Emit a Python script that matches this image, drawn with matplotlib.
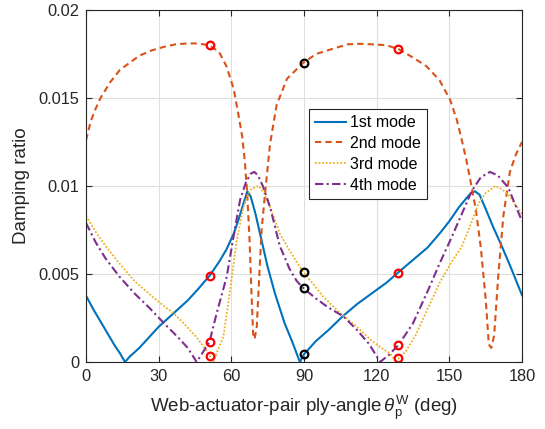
import matplotlib
matplotlib.use("Agg")
import matplotlib.pyplot as plt

plt.rcParams.update({
    "font.family": ["Liberation Sans", "DejaVu Sans"],
    "font.size": 12,
    "mathtext.fontset": "custom",
    "mathtext.rm": "Liberation Sans",
    "mathtext.it": "Liberation Sans:italic",
})

# ── data ────────────────────────────────────────────────────────────────
x_mode1 = [0, 3, 6, 9, 12, 14, 16.1, 18, 22, 26, 30, 34, 38, 42, 46, 51, 55, 58,
           61, 63, 65, 66.6, 68, 70, 72, 75, 78, 82, 85, 88.3, 90, 95, 100, 106,
           112, 118, 124, 129, 135, 141, 146, 150, 154, 157, 159, 160.6, 162.5,
           165, 168, 171.6, 175, 180]
y_mode1 = [0.00377, 0.0030, 0.0023, 0.0016, 0.0009, 0.0005, 0.0, 0.0003, 0.0008,
           0.0014, 0.0020, 0.0025, 0.0030, 0.0035, 0.0041, 0.0049, 0.0057, 0.0064,
           0.0073, 0.0081, 0.0090, 0.0097, 0.0094, 0.0084, 0.0072, 0.0054, 0.0039,
           0.0022, 0.0012, 0.0, 0.00044, 0.0012, 0.0018, 0.0026, 0.0033, 0.0039,
           0.0045, 0.0051, 0.0058, 0.0065, 0.0073, 0.0080, 0.0088, 0.0093, 0.0096,
           0.0097, 0.0095, 0.0087, 0.0077, 0.0066, 0.0055, 0.0038]

x_mode2 = [0, 2, 4, 6, 10, 14, 18, 22, 27, 32, 37, 42, 46, 51, 55, 58, 61, 63,
           64.5, 65.5, 66.5, 67.5, 68.3, 69.0, 69.6, 70.5, 71.5, 72.5, 74, 76,
           78.7, 83, 89.7, 95, 102, 108, 113, 118, 124, 129, 135, 140.6, 146,
           150.3, 153, 155, 157, 159, 161, 163, 165, 166.3, 167.3, 168.5, 170.2,
           172.3, 175, 177.5, 180]
y_mode2 = [0.0126, 0.0137, 0.0144, 0.0150, 0.0159, 0.0166, 0.0170, 0.0174,
           0.0177, 0.0179, 0.01805, 0.0181, 0.0181, 0.0180, 0.0176, 0.0168,
           0.0155, 0.0140, 0.0128, 0.0115, 0.0097, 0.0070, 0.0040, 0.0016,
           0.0013, 0.0020, 0.0048, 0.0075, 0.0097, 0.0124, 0.0146, 0.0161,
           0.0170, 0.0175, 0.0178, 0.01805, 0.01808, 0.01805, 0.0180, 0.01778,
           0.0173, 0.0168, 0.0160, 0.0149, 0.0138, 0.0127, 0.0115, 0.0101,
           0.0086, 0.0065, 0.0036, 0.0010, 0.0008, 0.0015, 0.0049, 0.0083,
           0.0108, 0.0118, 0.0125]

x_mode3 = [0, 4, 8, 13.8, 20, 27.5, 32, 36.2, 41, 45.4, 49, 51, 52.6, 54.5, 56.7,
           59.5, 62.2, 65, 67.7, 69.5, 71.3, 73.5, 76, 80, 84.2, 89.7, 94, 98,
           104, 111.8, 118, 122, 125.5, 127.5, 129, 132, 136, 141.3, 146, 151,
           155.1, 158.5, 162, 165, 168.9, 172, 175, 178, 180]
y_mode3 = [0.0083, 0.0074, 0.0066, 0.0056, 0.0046, 0.0037, 0.0032, 0.00277,
           0.0021, 0.00144, 0.0008, 0.00036, 0.0, 0.0007, 0.00144, 0.0041,
           0.0069, 0.0088, 0.00977, 0.0099, 0.0100, 0.0096, 0.0088, 0.0073,
           0.0063, 0.0051, 0.0044, 0.0037, 0.0029, 0.0020, 0.0012, 0.0008,
           0.0005, 0.0001, 0.0002, 0.0006, 0.0015, 0.0031, 0.0045, 0.0057,
           0.00655, 0.0077, 0.0090, 0.0096, 0.0100, 0.0098, 0.0094, 0.0088,
           0.0084]

x_mode4 = [0, 4, 8, 13.8, 20, 26, 32, 38, 42, 45.7, 48, 51, 54, 58.1, 61, 63.6,
           66, 68, 69.5, 71, 73, 76, 80, 84, 87, 89.7, 95, 100, 106.2, 112, 117,
           121.4, 125, 129, 135, 141.3, 146, 151, 155.1, 159.2, 163, 166.8, 170,
           174.4, 177, 180]
y_mode4 = [0.0079, 0.0068, 0.0059, 0.00485, 0.0039, 0.0031, 0.00223, 0.0014,
           0.0008, 0.0, 0.0005, 0.00115, 0.0028, 0.00485, 0.0072, 0.0092,
           0.0102, 0.0107, 0.0108, 0.0106, 0.0100, 0.0088, 0.0066, 0.0053,
           0.0046, 0.0042, 0.0036, 0.0031, 0.0026, 0.0018, 0.0010, 0.0, 0.0004,
           0.00097, 0.0022, 0.0041, 0.0056, 0.0071, 0.0084, 0.0097, 0.0105,
           0.0108, 0.0106, 0.0099, 0.0090, 0.0080]

# highlighted design points
x_red = [51, 51, 51, 51, 129, 129, 129, 129]
y_red = [0.0180, 0.0049, 0.00115, 0.00036, 0.01778, 0.00506, 0.00097, 0.00021]
x_black = [90, 90, 90, 90]
y_black = [0.0170, 0.0051, 0.0042, 0.00044]

labels = ["1st mode", "2nd mode", "3rd mode", "4th mode"]
x_ticks = [0, 30, 60, 90, 120, 150, 180]
y_ticks = [0, 0.005, 0.01, 0.015, 0.02]
y_ticklabels = ["0", "0.005", "0.01", "0.015", "0.02"]

# ── plot ────────────────────────────────────────────────────────────────
fig = plt.figure(figsize=(5.45, 4.29), dpi=100)
ax = fig.add_axes([86 / 545, 1 - 362 / 429, 436 / 545, 352 / 429])

ax.plot(x_mode1, y_mode1, color="#0072BD", lw=1.5, ls="-", label=labels[0])
ax.plot(x_mode2, y_mode2, color="#D95319", lw=1.5, ls=(0, (3, 2)), label=labels[1])
ax.plot(x_mode3, y_mode3, color="#EDB120", lw=1.3, ls=(0, (1, 1)), label=labels[2])
ax.plot(x_mode4, y_mode4, color="#7E2F8E", lw=1.5, ls=(0, (4, 1.6, 1, 1.6)), label=labels[3])

ax.plot(x_red, y_red, ls="none", marker="o", ms=5.5, mfc="none", mec="red", mew=1.6)
ax.plot(x_black, y_black, ls="none", marker="o", ms=5.5, mfc="none", mec="black", mew=1.6)

ax.set_xlim(0, 180)
ax.set_ylim(0, 0.02)
ax.set_xticks(x_ticks)
ax.set_yticks(y_ticks)
ax.set_yticklabels(y_ticklabels)
ax.grid(True, color="#dfdfdf", lw=0.8)
ax.set_axisbelow(True)
ax.tick_params(direction="in", top=True, right=True, length=4, width=0.8,
               colors="#262626", labelsize=11.8, pad=5)
for sp in ax.spines.values():
    sp.set_color("#262626")
    sp.set_linewidth(0.8)

ax.set_xlabel(r"Web-actuator-pair ply-angle$\,\theta_{\rm p}^{\rm W}$ (deg)",
              fontsize=13.5, color="#262626", labelpad=7)
ax.set_ylabel("Damping ratio", fontsize=13.5, color="#262626", labelpad=6)

leg = ax.legend(loc="upper left", bbox_to_anchor=(0.511, 0.719), fontsize=11.5,
                fancybox=False, framealpha=1, edgecolor="#262626",
                handlelength=1.95, handletextpad=0.2, borderpad=0.4,
                labelspacing=0.36, borderaxespad=0)
leg.get_frame().set_linewidth(0.8)

fig.savefig("out.png", dpi=100)
